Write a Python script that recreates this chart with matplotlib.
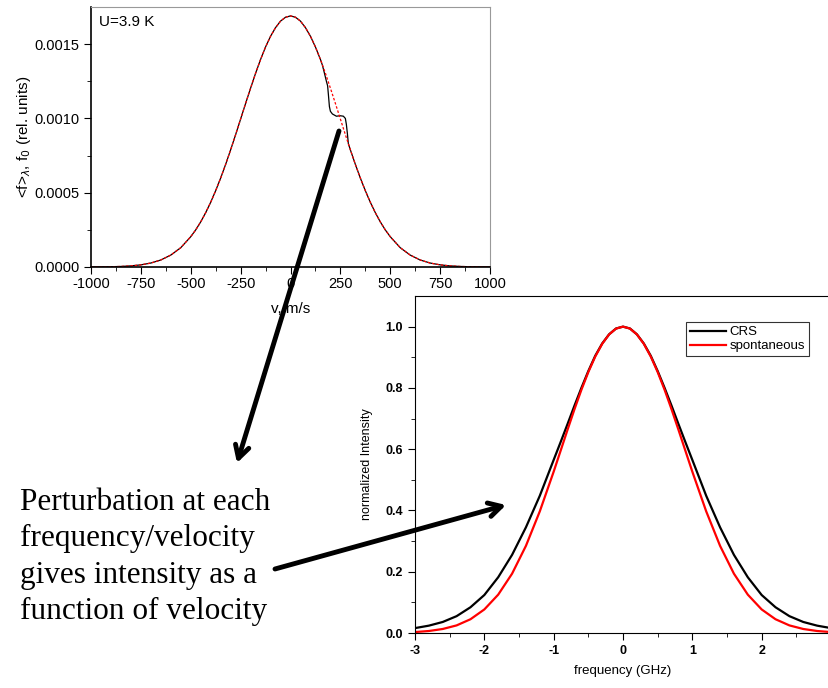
import matplotlib
matplotlib.use("Agg")
import matplotlib.pyplot as plt
from matplotlib.patches import FancyArrowPatch

# top panel: velocity distribution (reference, red dotted)
v_ref = [-1000, -950, -900, -850, -800, -750, -700, -650, -600, -550, -500,
         -475, -450, -425, -400, -375, -350, -325, -300, -275, -250, -225,
         -200, -175, -150, -125, -100, -75, -50, -25, 0,
         25, 50, 75, 100, 125, 150, 175, 200, 225, 250, 275, 300, 325,
         350, 375, 400, 425, 450, 475, 500,
         550, 600, 650, 700, 750, 800, 850, 900, 950, 1000]
f_ref = [0.0000004, 0.0000008, 0.0000018, 0.0000037, 0.0000075, 0.0000144,
         0.0000267, 0.0000472, 0.0000802, 0.000130, 0.000204,
         0.000250, 0.000304, 0.000366, 0.000436, 0.000514, 0.000599,
         0.000691, 0.000789, 0.000891, 0.000996, 0.001101,
         0.001204, 0.001304, 0.001397, 0.001481, 0.001553, 0.001611,
         0.001655, 0.001681, 0.001690,
         0.001681, 0.001655, 0.001611, 0.001553, 0.001481, 0.001397,
         0.001304, 0.001204, 0.001101, 0.000996, 0.000891, 0.000789,
         0.000691, 0.000599, 0.000514, 0.000436, 0.000366, 0.000304,
         0.000250, 0.000204,
         0.000130, 0.0000802, 0.0000472, 0.0000267, 0.0000144, 0.0000075,
         0.0000037, 0.0000018, 0.0000008, 0.0000004]

# perturbed distribution (black solid)
v_pert = [-1000, -950, -900, -850, -800, -750, -700, -650, -600, -550, -500,
          -475, -450, -425, -400, -375, -350, -325, -300, -275, -250, -225,
          -200, -175, -150, -125, -100, -75, -50, -25, 0,
          25, 50, 75, 100, 125, 150, 160, 170, 180, 186, 190, 195, 200,
          210, 230, 250, 265, 275, 280, 285, 290, 300, 325,
          350, 375, 400, 425, 450, 475, 500,
          550, 600, 650, 700, 750, 800, 850, 900, 950, 1000]
f_pert = [0.0000004, 0.0000008, 0.0000018, 0.0000037, 0.0000075, 0.0000144,
          0.0000267, 0.0000472, 0.0000802, 0.000130, 0.000204,
          0.000250, 0.000304, 0.000366, 0.000436, 0.000514, 0.000599,
          0.000691, 0.000789, 0.000891, 0.000996, 0.001101,
          0.001204, 0.001304, 0.001397, 0.001481, 0.001553, 0.001611,
          0.001655, 0.001681, 0.001690,
          0.001681, 0.001655, 0.001611, 0.001553, 0.001481, 0.001397,
          0.001358, 0.001305, 0.001250, 0.001220, 0.001160, 0.001080,
          0.001048, 0.001030, 0.001015, 0.001018, 0.001015, 0.001000,
          0.000960, 0.000900, 0.000830, 0.000789, 0.000691,
          0.000599, 0.000514, 0.000436, 0.000366, 0.000304, 0.000250,
          0.000204,
          0.000130, 0.0000802, 0.0000472, 0.0000267, 0.0000144, 0.0000075,
          0.0000037, 0.0000018, 0.0000008, 0.0000004]

# bottom panel: line shapes
freq = [-3.0, -2.8, -2.6, -2.4, -2.2, -2.0, -1.8, -1.6, -1.4, -1.2, -1.0,
        -0.9, -0.8, -0.7, -0.6, -0.5, -0.4, -0.3, -0.2, -0.1, 0.0,
        0.1, 0.2, 0.3, 0.4, 0.5, 0.6, 0.7, 0.8, 0.9, 1.0,
        1.2, 1.4, 1.6, 1.8, 2.0, 2.2, 2.4, 2.6, 2.8, 3.0]
crs = [0.016, 0.024, 0.036, 0.055, 0.084, 0.124, 0.182, 0.255, 0.345, 0.448,
       0.565, 0.623, 0.682, 0.742, 0.800, 0.855, 0.905, 0.945, 0.975, 0.994,
       1.000,
       0.994, 0.975, 0.945, 0.905, 0.855, 0.800, 0.742, 0.682, 0.623, 0.565,
       0.448, 0.345, 0.255, 0.182, 0.124, 0.084, 0.055, 0.036, 0.024, 0.016]
spont = [0.0031, 0.0065, 0.0131, 0.0248, 0.0449, 0.0769, 0.1252, 0.1936,
         0.2845, 0.3971, 0.5266, 0.5948, 0.6633, 0.7303, 0.7938, 0.8518,
         0.9025, 0.9439, 0.9747, 0.9936, 1.0000,
         0.9936, 0.9747, 0.9439, 0.9025, 0.8518, 0.7938, 0.7303, 0.6633,
         0.5948, 0.5266,
         0.3971, 0.2845, 0.1936, 0.1252, 0.0769, 0.0449, 0.0248, 0.0131,
         0.0065, 0.0031]

plt.rcParams['font.family'] = ['Liberation Sans', 'DejaVu Sans']
plt.rcParams['axes.unicode_minus'] = False

fig = plt.figure(figsize=(8.29, 6.88), dpi=100)

# ---- top axes
ax1 = fig.add_axes([91/829, 1 - 267/688, 399/829, 260/688])
ax1.plot(v_pert, f_pert, color='black', lw=0.9)
ax1.plot(v_ref, f_ref, color='red', lw=0.9, ls=(0, (2, 1.5)))
ax1.set_xlim(-1000, 1000)
ax1.set_ylim(0, 0.00175)
ax1.set_xticks([-1000, -750, -500, -250, 0, 250, 500, 750, 1000])
ax1.set_xticks(range(-875, 1000, 250), minor=True)
ax1.set_yticks([0, 0.0005, 0.0010, 0.0015])
ax1.set_yticklabels(['0.0000', '0.0005', '0.0010', '0.0015'])
ax1.set_yticks([0.00025, 0.00075, 0.00125], minor=True)
ax1.tick_params(which='major', length=5, labelsize=10.5, direction='out')
ax1.tick_params(which='minor', length=3, direction='out')
ax1.tick_params(axis='x', pad=2)
for s in ['top', 'right']:
    ax1.spines[s].set_color('#999999')
for s in ['left', 'bottom']:
    ax1.spines[s].set_linewidth(1.2)
ax1.set_xlabel('v, m/s', fontsize=11, labelpad=8)
ax1.set_ylabel(r'<f>$_\lambda$, f$_0$ (rel. units)', fontsize=11, labelpad=1)
ax1.text(0.02, 0.97, 'U=3.9 K', transform=ax1.transAxes, fontsize=11,
         va='top', ha='left')

# ---- bottom axes
ax2 = fig.add_axes([415/829, 1 - 633/688, 416/829, 337/688])
ax2.plot(freq, crs, color='black', lw=1.6, label='CRS')
ax2.plot(freq, spont, color='red', lw=1.6, label='spontaneous')
ax2.set_xlim(-3, 3)
ax2.set_ylim(0, 1.1)
ax2.set_xticks([-3, -2, -1, 0, 1, 2, 3])
ax2.set_xticks([-2.5, -1.5, -0.5, 0.5, 1.5, 2.5], minor=True)
ax2.set_yticks([0, 0.2, 0.4, 0.6, 0.8, 1.0])
ax2.set_yticklabels(['0.0', '0.2', '0.4', '0.6', '0.8', '1.0'])
ax2.set_yticks([0.1, 0.3, 0.5, 0.7, 0.9], minor=True)
ax2.tick_params(which='major', length=5, labelsize=9, direction='out')
ax2.tick_params(which='minor', length=3, direction='out')
for lab in ax2.get_xticklabels() + ax2.get_yticklabels():
    lab.set_fontweight('bold')
ax2.set_xlabel('frequency (GHz)', fontsize=9.5, labelpad=6)
ax2.set_ylabel('normalized Intensity', fontsize=9, labelpad=9)
leg = ax2.legend(loc='upper right', bbox_to_anchor=(809/829, 1 - 322/688),
                 bbox_transform=fig.transFigure, fontsize=9.5, frameon=True,
                 fancybox=False, handlelength=2.7, handletextpad=0.3,
                 borderpad=0.3, labelspacing=0.15, borderaxespad=0)
leg.get_frame().set_edgecolor('black')
leg.get_frame().set_linewidth(0.8)

# ---- arrows and text (figure pixels, drawn above both axes)
def px(x, y):
    return (x / 829, 1 - y / 688)

for start, end in [((339, 131), (237, 463)), ((275, 569), (506, 505))]:
    arr = FancyArrowPatch(px(*start), px(*end), transform=fig.transFigure,
                          arrowstyle='->,head_length=0.9,head_width=0.5',
                          mutation_scale=10, lw=3.5, color='black',
                          shrinkA=0, shrinkB=0, zorder=10)
    fig.add_artist(arr)

fig.text(20 / 829, 1 - 488 / 688,
         'Perturbation at each\nfrequency/velocity\ngives intensity as a\nfunction of velocity',
         family=['Liberation Serif', 'DejaVu Serif'], fontsize=22.5,
         va='top', ha='left', linespacing=1.33)

fig.savefig('out.png', dpi=100)
